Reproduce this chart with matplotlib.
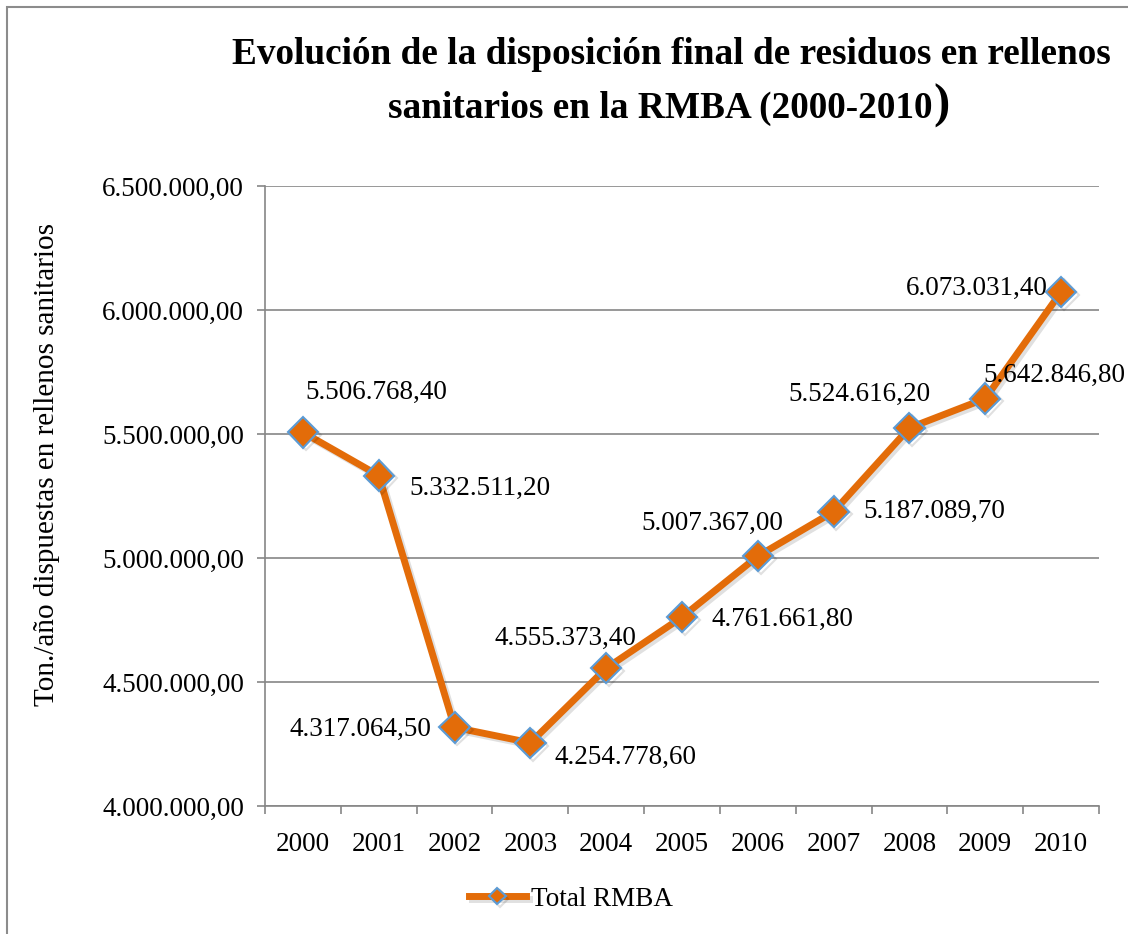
import matplotlib
matplotlib.use("Agg")
import matplotlib.pyplot as plt
import matplotlib.patheffects as pe
from matplotlib.patches import Rectangle
from matplotlib.ticker import FuncFormatter, FixedLocator

#%% Data
years = ['2000', '2001', '2002', '2003', '2004', '2005',
         '2006', '2007', '2008', '2009', '2010']
total_rmba = [5506768.40, 5332511.20, 4317064.50, 4254778.60, 4555373.40,
              4761661.80, 5007367.00, 5187089.70, 5524616.20, 5642846.80,
              6073031.40]
y_ticks = [4000000, 4500000, 5000000, 5500000, 6000000, 6500000]

# label placement per point (pixel offsets, alignment)
lab_dx = [2, 31, -23, 24, -41, 30, -46, 30, -50, -2, -13]
lab_dy = [40, -13, -2, -15, 30, -2, 33, 0, 33, 23, 3]
lab_ha = ['left', 'left', 'right', 'left', 'center', 'left',
          'center', 'left', 'center', 'left', 'right']

plt.rcParams['font.family'] = ['Liberation Serif', 'DejaVu Serif']

orange = '#E36C09'
edge_blue = '#5B9BD5'
grid_col = '#868686'
fs = 19.5


def es_fmt(v):
    s = '{:,.2f}'.format(v)
    return s.replace(',', 'X').replace('.', ',').replace('X', '.')


fig = plt.figure(figsize=(11.28, 9.34), dpi=100)
ax = fig.add_axes([265/1128, 1-806/934, 834/1128, 620/934])

x = list(range(len(years)))
shadow = [pe.SimpleLineShadow(offset=(2, -2), alpha=0.12, shadow_color='black'),
          pe.Normal()]
ax.plot(x, total_rmba, color=orange, lw=5, marker='D', ms=15.5,
        mfc=orange, mec=edge_blue, mew=1.5, label='Total RMBA',
        path_effects=shadow, zorder=3)

for i in range(len(x)):
    ax.annotate(es_fmt(total_rmba[i]), (x[i], total_rmba[i]),
                xytext=(lab_dx[i], lab_dy[i]), textcoords='offset pixels',
                ha=lab_ha[i], va='center', fontsize=fs, zorder=4)

ax.set_xlim(-0.5, len(x) - 0.5)
ax.set_ylim(4000000, 6500000)
ax.set_yticks(y_ticks)
ax.yaxis.set_major_formatter(FuncFormatter(lambda v, p: es_fmt(v)))
ax.set_xticks(x)
ax.set_xticklabels(years)
ax.xaxis.set_minor_locator(FixedLocator([i - 0.5 for i in range(len(x) + 1)]))
ax.tick_params(axis='x', which='major', length=0, pad=19, labelsize=fs)
ax.tick_params(axis='x', which='minor', length=6, width=1.2, color=grid_col)
ax.tick_params(axis='y', length=6, width=1.2, color=grid_col, pad=9, labelsize=fs)

ax.grid(axis='y', color=grid_col, lw=1.2)
ax.set_axisbelow(True)
for s in ['top', 'right']:
    ax.spines[s].set_visible(False)
for s in ['left', 'bottom']:
    ax.spines[s].set_color(grid_col)
    ax.spines[s].set_linewidth(1.2)

fig.text(47/1128, 1-465/934, 'Ton./año dispuestas en rellenos sanitarios',
         rotation=90, ha='center', va='center', fontsize=21)

# title, the closing bracket is drawn larger as in the source
fig.text(671/1128, 1-55/934,
         'Evolución de la disposición final de residuos en rellenos',
         ha='center', va='center', fontsize=26.8, fontweight='bold')
t2 = fig.text(660/1128, 1-108/934, 'sanitarios en la RMBA (2000-2010',
              ha='center', va='center', fontsize=26.8, fontweight='bold')
fig.canvas.draw()
bb = t2.get_window_extent()
fig.text((bb.x1 + 1)/1128, 1-106/934, ')', ha='left', va='center',
         fontsize=35, fontweight='bold')

leg = fig.legend(loc='center', bbox_to_anchor=(571/1128, 1-899/934),
                 frameon=False, fontsize=fs, handlelength=2.1,
                 handletextpad=0.2, markerscale=0.55)

# chart border
fig.patches.append(Rectangle((7/1128, -0.05), 1.1, 1-7/934+0.05,
                             transform=fig.transFigure, fill=False,
                             ec='#8C8C8C', lw=1.5))

fig.savefig('out.png', dpi=100)
